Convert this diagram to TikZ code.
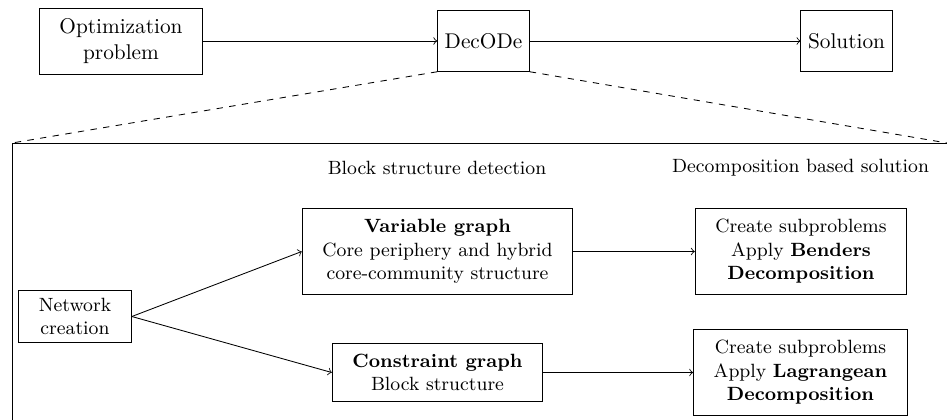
\documentclass[tikz,border=0pt]{standalone}
\begin{document}
\begin{tikzpicture}[x=0.0165cm,y=-0.0165cm,
  topbox/.style={draw, align=center, minimum height=1cm},
  widebox/.style={draw, align=center, inner xsep=9.5pt, inner ysep=5pt},
  lowbox/.style={widebox, font=\small}]
\clip (0,0) rectangle (947,419);
% top row
\node[widebox] (opt) at (121,41) {Optimization\\problem};
\node[topbox] (decode) at (483.5,41) {DecODe};
\node[topbox] (sol) at (846.5,41) {Solution};
% zoomed frame
\coordinate (fl) at (12,143);
\coordinate (fr) at (947,143);
\draw (fl) rectangle (948,430);
\draw[dashed] (decode.south west) -- (fl);
\draw[dashed] (decode.south east) -- (fr);
% column titles
\node[font=\small] (bsd) at (437,168) {Block structure detection};
\node[font=\small] (dbs) at (800.5,168) {Decomposition based solution};
% inner boxes
\node[lowbox, inner ysep=3.4pt] (net) at (75,316.5) {Network\\creation};
\node[lowbox] (var) at (437.5,251.5) {\textbf{Variable graph}\\Core periphery and hybrid\\core-community structure};
\node[lowbox] (con) at (437.5,372.5) {\textbf{Constraint graph}\\Block structure};
\node[lowbox] (ben) at (801,251.5) {Create subproblems\\Apply \textbf{Benders}\\\textbf{Decomposition}};
\node[lowbox] (lag) at (800.5,372.5) {Create subproblems\\Apply \textbf{Lagrangean}\\\textbf{Decomposition}};
\foreach \a/\b in {opt/decode, decode/sol, var/ben, con/lag} % straight arrows
\draw[->] (\a) -- (\b);
\draw[->] (net.east) -- (var.west);
\draw[->] (net.east) -- (con.west);
\end{tikzpicture}
\end{document}
